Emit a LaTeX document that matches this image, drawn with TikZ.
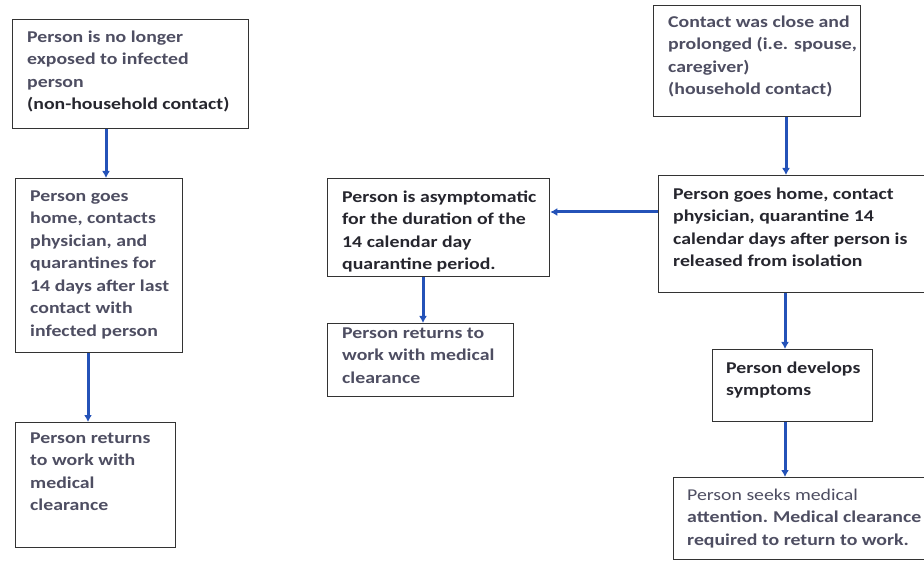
\documentclass[tikz,border=0pt]{standalone}
\usepackage{fontspec}
\setmainfont{Carlito}[FakeStretch=1.2]
\usetikzlibrary{arrows.meta}
\definecolor{txtgray}{HTML}{4E4E62}
\definecolor{txtdark}{HTML}{26262E}
\definecolor{arrblue}{HTML}{2452B8}
\definecolor{boxline}{HTML}{333333}
\newcommand{\fstrut}{\rule{0pt}{13pt}}
\tikzset{
  box/.style={draw=boxline, line width=1.3pt, rectangle, inner sep=0pt, anchor=north west, fill=white},
  txt/.style={anchor=north west, align=left, inner sep=0pt, font=\bfseries\fontsize{16.5}{22.5}\selectfont, text=txtgray},
  arr/.style={draw=arrblue, line width=3pt, -{Latex[length=7pt,width=8pt]}}
}
\begin{document}
\begin{tikzpicture}[x=1pt,y=-1pt]
\useasboundingbox (0,0) rectangle (924,561);
% boxes
\node[box, minimum width=236pt, minimum height=109pt] (A) at (12,19) {};
\node[box, minimum width=167pt, minimum height=174pt] (B) at (15,178) {};
\node[box, minimum width=160pt, minimum height=125pt] (C) at (15,422) {};
\node[box, minimum width=222pt, minimum height=98pt] (D) at (327,178) {};
\node[box, minimum width=186pt, minimum height=73pt] (E) at (327,323) {};
\node[box, minimum width=207pt, minimum height=111pt] (F) at (653,5) {};
\node[box, minimum width=275pt, minimum height=117pt] (G) at (658,175) {};
\node[box, minimum width=160pt, minimum height=72pt] (H) at (712,349) {};
\node[box, minimum width=260pt, minimum height=82pt] (I) at (673,477) {};
% texts (placed so the first baseline is 13pt below the given point)
\node[txt] (tA) at (27,29) {\fstrut Person is no longer\\exposed to infected\\person\\\textcolor{txtdark}{(non-household contact)}};
\node[txt] (tB) at (30,188) {\fstrut Person goes\\home, contacts\\physician, and\\quarantines for\\14 days after last\\contact with\\infected person};
\node[txt] (tC) at (30,430) {\fstrut Person returns\\to work with\\medical\\clearance};
\node[txt, text=txtdark] (tD) at (342,189) {\fstrut Person is asymptomatic\\for the duration of the\\14 calendar day\\quarantine period.};
\node[txt] (tE) at (342,325) {\fstrut Person returns to\\work with medical\\clearance};
\node[txt] (tF) at (668,14) {\fstrut Contact was close and\\prolonged (i.e. spouse,\\caregiver)\\(household contact)};
\node[txt, text=txtdark] (tG) at (673,186) {\fstrut Person goes home, contact\\physician, quarantine 14\\calendar days after person is\\released from isolation};
\node[txt, text=txtdark] (tH) at (726,360) {\fstrut Person develops\\symptoms};
\node[txt] (tI) at (687,487) {\fstrut{\mdseries Person seeks medical}\\attention.\hspace{5pt}Medical clearance\\required to return to work.};
% connectors
\draw[arr] ([xshift=94pt]A.south west) -- ([xshift=91pt]B.north west);
\draw[arr] ([xshift=73pt]B.south west) -- ([xshift=73pt]C.north west);
\draw[arr] ([xshift=133pt]F.south west) -- ([xshift=128pt]G.north west);
\draw[arr] ([yshift=-37pt]G.north west) -- ([yshift=-34pt]D.north east);
\draw[arr] ([xshift=96pt]D.south west) -- ([xshift=96pt]E.north west);
\draw[arr] ([xshift=127pt]G.south west) -- ([xshift=73pt]H.north west);
\draw[arr] ([xshift=73pt]H.south west) -- ([xshift=112pt]I.north west);
\end{tikzpicture}
\end{document}
